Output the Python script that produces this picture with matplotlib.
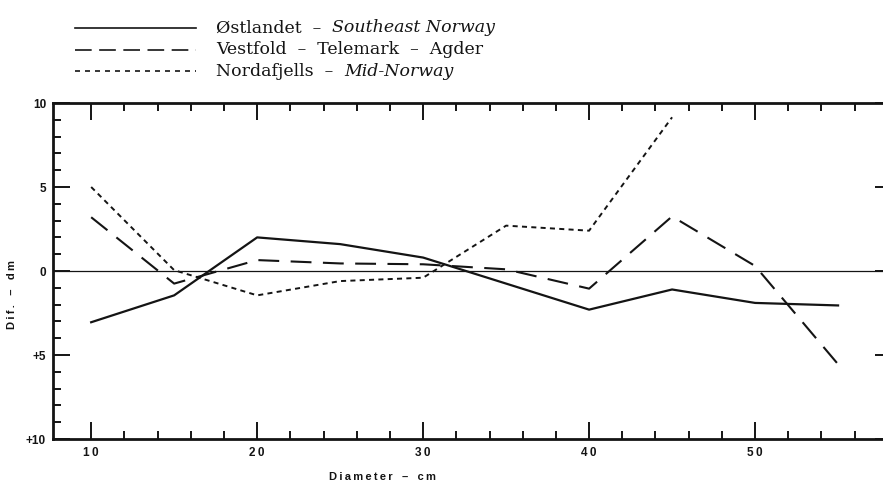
import numpy as np
import matplotlib
matplotlib.use("Agg")
import matplotlib.pyplot as plt
from matplotlib.lines import Line2D
from matplotlib.ticker import FixedLocator, MultipleLocator

# diameter classes, cm
diam = [10, 15, 20, 25, 30, 35, 40, 45, 50, 55]
diam_mid = [10, 15, 20, 25, 30, 35, 40, 45]

# difference, dm
ostlandet = [-3.05, -1.45, 2.0, 1.6, 0.8, -0.75, -2.3, -1.1, -1.9, -2.05]
vestfold = [3.2, -0.75, 0.65, 0.45, 0.4, 0.1, -1.05, 3.25, 0.3, -5.55]
nordafjells = [5.0, 0.05, -1.45, -0.6, -0.4, 2.7, 2.4, 9.15]

ytick_vals = [-10, -5, 0, 5, 10]
ytick_labels = ["+10", "+5", "0", "5", "10"]
xtick_vals = [10, 20, 30, 40, 50]


def spaced(s):
    return "\u2009".join(s)


W, H = 883, 482
fig = plt.figure(figsize=(W / 100, H / 100), dpi=100)
ax = fig.add_axes([53 / W, 43 / H, 839 / W, 336 / H])

ink = "#141414"
ax.axhline(0, color=ink, lw=0.9)
ax.plot(diam, ostlandet, color=ink, lw=1.6, ls="-")
ax.plot(diam, vestfold, color=ink, lw=1.5, ls=(0, (10, 5.5)))
ax.plot(diam_mid, nordafjells, color=ink, lw=1.4, ls=(0, (2.6, 2.2)))

ax.set_xlim(7.7, 58.25)
ax.set_ylim(-10, 10)

for s in ax.spines.values():
    s.set_linewidth(2.0)
    s.set_color(ink)

ax.xaxis.set_major_locator(FixedLocator(xtick_vals))
ax.xaxis.set_minor_locator(FixedLocator([v for v in range(12, 58, 2) if v % 10]))
ax.yaxis.set_major_locator(FixedLocator(ytick_vals))
ax.yaxis.set_minor_locator(MultipleLocator(1))

ax.set_xticklabels([spaced(str(v)) for v in xtick_vals])
ax.set_yticklabels(ytick_labels)

ax.tick_params(which="both", direction="in", top=True, right=True,
               color=ink, width=1.4)
ax.tick_params(which="major", length=12)
ax.tick_params(which="minor", length=6)
ax.tick_params(axis="x", which="major", pad=6)
ax.tick_params(axis="y", which="major", pad=5)
for lab in ax.get_xticklabels() + ax.get_yticklabels():
    lab.set_fontfamily("Liberation Sans")
    lab.set_fontweight("bold")
    lab.set_fontsize(8.5)
    lab.set_color(ink)

ax.set_xlabel(spaced("Diameter") + "   \u2013   " + spaced("cm"),
              fontfamily="Liberation Sans", fontweight="bold", fontsize=8, color=ink)
ax.xaxis.set_label_coords(0.393, -0.098)
ax.set_ylabel(spaced("Dif.") + "   \u2013   " + spaced("dm"),
              fontfamily="Liberation Sans", fontweight="bold", fontsize=8, color=ink)
ax.yaxis.set_label_coords(-0.043, 0.43)

# legend drawn by hand above the plot
legend_rows = [
    ("-", "Østlandet  \u2013  ", "Southeast Norway", 28),
    ((0, (10, 4.5)), "Vestfold  \u2013  Telemark  \u2013  Agder", "", 50),
    ((0, (3, 3)), "Nordafjells  \u2013  ", "Mid-Norway", 71),
]
for ls, plain, ital, ypx in legend_rows:
    yf = 1 - ypx / H
    fig.add_artist(Line2D([75 / W, 196 / W], [yf, yf], color=ink, lw=1.2, ls=ls))
    t = fig.text(216 / W, yf, plain, family="DejaVu Serif", fontsize=12.5,
                 va="center", ha="left", color=ink)
    if ital:
        ax.annotate(ital, xy=(1, 0.5), xycoords=t, va="center", ha="left",
                    family="DejaVu Serif", style="italic", fontsize=12.5, color=ink,
                    annotation_clip=False)

fig.savefig("out.png", dpi=100, facecolor="white")
